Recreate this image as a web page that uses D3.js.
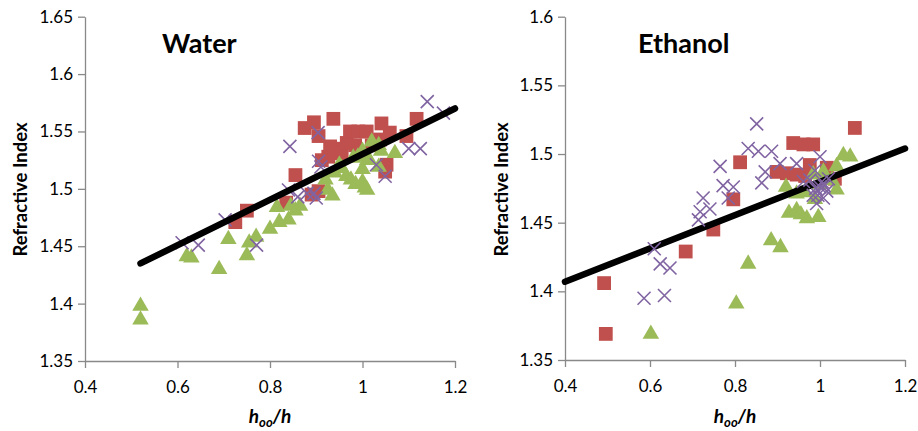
<!DOCTYPE html>
<html>
  <head>
    <title>Refractive index vs hoo/h</title>
    <style>
      body { margin: 0; background: #fff; }
      text { font-family: Lato, "Open Sans", sans-serif; }
    </style>
  </head>
  <body>
    <script src="https://cdnjs.cloudflare.com/ajax/libs/d3/7.8.5/d3.min.js"></script>
    <script>
      // water panel, [hoo/h, refractive index]
      let waterSquares = [
        [0.725, 1.471], [0.75, 1.481], [0.835, 1.488], [0.855, 1.512], [0.89, 1.495],
        [0.905, 1.498], [0.875, 1.553], [0.895, 1.558], [0.937, 1.561], [0.905, 1.546],
        [0.912, 1.525], [0.926, 1.528], [0.93, 1.537], [0.951, 1.535], [0.955, 1.531],
        [0.966, 1.540], [0.973, 1.550], [0.984, 1.538], [0.991, 1.550], [1.009, 1.550],
        [1.02, 1.538], [1.038, 1.543], [1.041, 1.557], [1.049, 1.515], [1.052, 1.521],
        [1.059, 1.549], [1.095, 1.546], [1.117, 1.561]
      ];
      let waterTriangles = [
        [0.52, 1.398], [0.52, 1.386], [0.62, 1.441], [0.63, 1.440], [0.69, 1.430],
        [0.71, 1.456], [0.75, 1.442], [0.755, 1.453], [0.77, 1.458], [0.80, 1.465],
        [0.815, 1.484], [0.82, 1.471], [0.84, 1.473], [0.845, 1.485], [0.855, 1.481],
        [0.865, 1.485], [0.92, 1.508], [0.925, 1.499], [0.935, 1.494], [0.94, 1.514],
        [0.95, 1.521], [0.955, 1.518], [0.965, 1.511], [0.975, 1.508], [0.98, 1.527],
        [0.985, 1.504], [0.99, 1.528], [1.0, 1.533], [1.0, 1.517], [1.0, 1.506],
        [1.005, 1.501], [1.01, 1.499], [1.01, 1.525], [1.015, 1.525], [1.02, 1.541],
        [1.035, 1.538], [1.035, 1.519], [1.04, 1.533], [1.07, 1.531]
      ];
      let waterCrosses = [
        [0.61, 1.453], [0.645, 1.451], [0.703, 1.473], [0.771, 1.451], [0.84, 1.499],
        [0.843, 1.537], [0.86, 1.493], [0.88, 1.496], [0.895, 1.496], [0.9, 1.492],
        [0.904, 1.549], [0.905, 1.524], [0.91, 1.519], [1.03, 1.521], [1.049, 1.511],
        [1.1, 1.535], [1.125, 1.535], [1.14, 1.576], [1.175, 1.566]
      ];
      let waterFit = [[0.52, 1.435], [1.2, 1.570]];

      // ethanol panel
      let ethanolSquares = [
        [0.492, 1.406], [0.496, 1.369], [0.684, 1.429], [0.749, 1.445], [0.796, 1.467],
        [0.812, 1.494], [0.898, 1.487], [0.922, 1.486], [0.945, 1.485], [0.937, 1.508],
        [0.961, 1.507], [0.984, 1.507], [0.965, 1.484], [0.976, 1.492], [1.016, 1.490],
        [1.035, 1.482], [1.082, 1.519]
      ];
      let ethanolTriangles = [
        [0.602, 1.369], [0.803, 1.391], [0.831, 1.420], [0.885, 1.437], [0.907, 1.432],
        [0.927, 1.457], [0.945, 1.459], [0.955, 1.456], [0.969, 1.453], [0.996, 1.454],
        [0.92, 1.476], [0.945, 1.471], [0.965, 1.472], [0.988, 1.467], [0.984, 1.485],
        [1.008, 1.487], [1.028, 1.481], [1.039, 1.474], [1.039, 1.491], [1.055, 1.499],
        [1.071, 1.498], [1.0, 1.478], [1.015, 1.482]
      ];
      let ethanolCrosses = [
        [0.586, 1.395], [0.634, 1.397], [0.61, 1.431], [0.624, 1.420], [0.647, 1.417],
        [0.714, 1.452], [0.718, 1.458], [0.725, 1.468], [0.741, 1.460], [0.765, 1.491],
        [0.772, 1.477], [0.784, 1.468], [0.796, 1.476], [0.831, 1.504], [0.851, 1.522],
        [0.855, 1.502], [0.863, 1.479], [0.871, 1.487], [0.886, 1.502], [0.906, 1.493],
        [0.945, 1.493], [0.961, 1.480], [0.976, 1.481], [0.984, 1.470], [0.988, 1.488],
        [0.992, 1.464], [1.0, 1.498], [1.0, 1.476], [1.008, 1.468], [1.016, 1.473],
        [1.02, 1.482], [0.99, 1.475], [1.005, 1.48], [0.995, 1.47], [1.01, 1.477]
      ];
      let ethanolFit = [[0.4, 1.407], [1.2, 1.504]];

      let xTicks = [0.4, 0.6, 0.8, 1, 1.2];
      let waterYTicks = [1.35, 1.4, 1.45, 1.5, 1.55, 1.6, 1.65];
      let ethanolYTicks = [1.35, 1.4, 1.45, 1.5, 1.55, 1.6];

      let red = '#c0504d', green = '#9bbb59', purple = '#8064a2', axisGrey = '#898989';

      let svg = d3.select('body')
                  .append('svg')
                  .attr('width', 918)
                  .attr('height', 431);

      let fmt = (d) => String(+d.toFixed(2));

      function drawPanel(p) {
        let x = d3.scaleLinear().domain([0.4, 1.2]).range(p.xRange);
        let y = d3.scaleLinear().domain(p.yDomain).range(p.yRange);
        let g = svg.append('g');

        // axes
        let yAxis = g.append('g')
                     .attr('transform', `translate(${p.xRange[0]},0)`)
                     .call(d3.axisLeft(y).tickValues(p.yTicks).tickFormat(fmt)
                             .tickSize(7).tickPadding(5).tickSizeOuter(0));
        let xAxis = g.append('g')
                     .attr('transform', `translate(0,${p.yRange[0]})`)
                     .call(d3.axisBottom(x).tickValues(xTicks).tickFormat(fmt)
                             .tickSize(7).tickPadding(13).tickSizeOuter(0));
        [xAxis, yAxis].forEach((a) => {
          a.select('.domain').attr('stroke', axisGrey).attr('stroke-width', 1.3);
          a.selectAll('.tick line').attr('stroke', axisGrey).attr('stroke-width', 1.3);
          a.selectAll('.tick text').attr('fill', '#000').attr('font-size', 17)
           .attr('font-family', 'Lato, sans-serif');
        });

        let line = d3.line().x((d) => x(d[0])).y((d) => y(d[1]));
        let drawLine = () => {
          g.append('path')
           .attr('d', line(p.fit))
           .attr('fill', 'none')
           .attr('stroke', '#000')
           .attr('stroke-width', 6.5)
           .attr('stroke-linecap', 'round');
        };

        g.append('g').selectAll('path')
         .data(p.squares)
         .enter()
           .append('path')
           .attr('d', d3.symbol().type(d3.symbolSquare).size(190))
           .attr('transform', (d) => `translate(${x(d[0])},${y(d[1])})`)
           .attr('fill', red);

        g.append('g').selectAll('path')
         .data(p.triangles)
         .enter()
           .append('path')
           .attr('d', d3.symbol().type(d3.symbolTriangle).size(118))
           .attr('transform', (d) => `translate(${x(d[0])},${y(d[1])})`)
           .attr('fill', green);

        // in the ethanol panel the crosses sit on top of the line
        if (!p.lineOverCrosses) drawLine();

        g.append('g').selectAll('path')
         .data(p.crosses)
         .enter()
           .append('path')
           .attr('d', 'M-6.5,-6.5L6.5,6.5M-6.5,6.5L6.5,-6.5')
           .attr('transform', (d) => `translate(${x(d[0])},${y(d[1])})`)
           .attr('fill', 'none')
           .attr('stroke', purple)
           .attr('stroke-width', 1.6);

        if (p.lineOverCrosses) drawLine();

        // titles
        g.append('text')
         .attr('x', p.titleX)
         .attr('y', 53)
         .attr('font-size', 27)
         .attr('font-weight', 'bold')
         .text(p.title);

        g.append('text')
         .attr('transform', `translate(${p.yTitleX},189.5) rotate(-90)`)
         .attr('text-anchor', 'middle')
         .attr('font-size', 18.5)
         .attr('font-weight', 'bold')
         .text('Refractive Index');

        let xt = g.append('text')
                  .attr('x', (p.xRange[0] + p.xRange[1]) / 2)
                  .attr('y', 423)
                  .attr('text-anchor', 'middle')
                  .attr('font-size', 19)
                  .attr('font-weight', 'bold')
                  .attr('font-style', 'italic');
        xt.append('tspan').text('h');
        xt.append('tspan').attr('font-size', 13).attr('dy', 4).text('oo');
        xt.append('tspan').attr('dy', -4).text('/h');
      }

      drawPanel({
        xRange: [85, 455], yDomain: [1.35, 1.65], yRange: [361, 16.7], yTicks: waterYTicks,
        squares: waterSquares, triangles: waterTriangles, crosses: waterCrosses, fit: waterFit,
        lineOverCrosses: true, title: 'Water', titleX: 162, yTitleX: 27
      });

      drawPanel({
        xRange: [565, 905], yDomain: [1.35, 1.6], yRange: [360, 16.7], yTicks: ethanolYTicks,
        squares: ethanolSquares, triangles: ethanolTriangles, crosses: ethanolCrosses, fit: ethanolFit,
        lineOverCrosses: false, title: 'Ethanol', titleX: 638, yTitleX: 508
      });
    </script>
  </body>
</html>
